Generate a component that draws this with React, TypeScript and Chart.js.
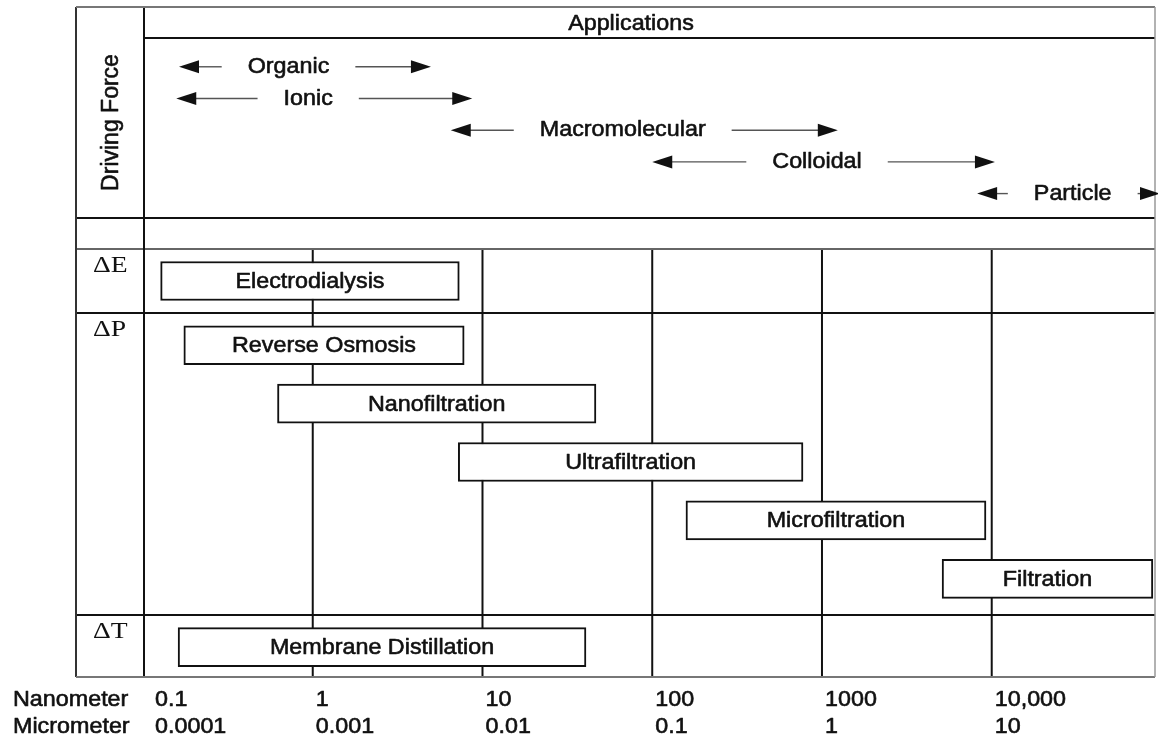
import React, { useEffect, useRef } from 'react';
import { Chart, registerables } from 'chart.js';

Chart.register(...registerables);

// ---- Data (sizes in nanometres) ----
const processNames = ['Electrodialysis', 'Reverse Osmosis', 'Nanofiltration', 'Ultrafiltration', 'Microfiltration', 'Filtration', 'Membrane Distillation'];
const processFrom = [0.127, 0.174, 0.62, 7.2, 158, 5100, 0.161];
const processTo = [7.3, 7.8, 46.6, 773, 9250, 89000, 40.7];
const processLane = [0, 1.1, 2.1, 3.1, 4.1, 5.1, 6.27];
const drivingForce = ['ΔE', 'ΔP', 'ΔP', 'ΔP', 'ΔP', 'ΔP', 'ΔT'];

const applicationNames = ['Organic', 'Ionic', 'Macromolecular', 'Colloidal', 'Particle'];
const applicationFrom = [0.163, 0.157, 6.5, 100, 8200];
const applicationTo = [4.97, 8.7, 1240, 10450, 98000];
const applicationLabelAt = [0.72, 0.94, 67, 935, 30000];
const applicationLane = [0, 1, 2, 3, 4];

const tickValues = [0.1, 1, 10, 100, 1000, 10000];
const nanometerLabels = ['0.1', '1', '10', '100', '1000', '10,000'];
const micrometerLabels = ['0.0001', '0.001', '0.01', '0.1', '1', '10'];
const unitRowTitles = ['Nanometer', 'Micrometer'];

// ---- Layout / style ----
const W = 1158;
const H = 740;
const FRAME_LEFT = 76;
const HEADER_LINE = 38;
const DRIVE_BOTTOM = 218;
const LANE_PAD = 0.55;
const SANS = '"Liberation Sans", Arial, sans-serif';
const SERIF = '"Liberation Serif", "Times New Roman", serif';
const INK = '#111';
const SX = 1.06;

function drawText(ctx: CanvasRenderingContext2D, s: string, x: number, y: number, font: string, align: CanvasTextAlign, sx = SX, heavy = true) {
  ctx.save();
  ctx.font = font;
  ctx.fillStyle = INK;
  ctx.strokeStyle = INK;
  ctx.lineWidth = 0.6;
  ctx.lineJoin = 'round';
  ctx.textBaseline = 'middle';
  ctx.textAlign = align;
  ctx.translate(x, y);
  ctx.scale(sx, 1);
  ctx.fillText(s, 0, 0);
  if (heavy) ctx.strokeText(s, 0, 0);
  ctx.restore();
}

function textWidth(ctx: CanvasRenderingContext2D, s: string, font: string, sx = SX) {
  ctx.save();
  ctx.font = font;
  const w = ctx.measureText(s).width * sx;
  ctx.restore();
  return w;
}

function line(ctx: CanvasRenderingContext2D, x1: number, y1: number, x2: number, y2: number, color: string, width: number) {
  ctx.save();
  ctx.strokeStyle = color;
  ctx.lineWidth = width;
  ctx.beginPath();
  ctx.moveTo(x1, y1);
  ctx.lineTo(x2, y2);
  ctx.stroke();
  ctx.restore();
}

function arrowHead(ctx: CanvasRenderingContext2D, tipX: number, y: number, dir: number) {
  const len = 20;
  const half = 6.5;
  ctx.save();
  ctx.fillStyle = INK;
  ctx.beginPath();
  ctx.moveTo(tipX, y);
  ctx.lineTo(tipX - dir * len, y - half);
  ctx.lineTo(tipX - dir * len, y + half);
  ctx.closePath();
  ctx.fill();
  ctx.restore();
}

function groupBounds() {
  // rows of driving forces derived from the process lanes
  const groups: { label: string; first: number; last: number }[] = [];
  drivingForce.forEach((g, i) => {
    const cur = groups[groups.length - 1];
    if (cur && cur.label === g) cur.last = processLane[i];
    else groups.push({ label: g, first: processLane[i], last: processLane[i] });
  });
  return groups;
}

const diagramPlugin = {
  id: 'membraneDiagram',
  beforeDatasetsDraw(chart: any) {
    const ctx: CanvasRenderingContext2D = chart.ctx;
    const { left, right, top, bottom } = chart.chartArea;
    const x = chart.scales.x;
    const y = chart.scales.y;
    const groups = groupBounds();
    const gridTop = y.getPixelForValue(groups[0].first - LANE_PAD);

    ctx.save();
    ctx.fillStyle = '#fff';
    ctx.fillRect(0, 0, W, H);
    ctx.restore();

    // vertical grid lines at decades
    tickValues.forEach((v) => {
      const px = x.getPixelForValue(v);
      if (px > left + 2 && px < right - 2) line(ctx, px, gridTop, px, bottom, INK, 2);
    });

    // horizontal structure
    line(ctx, left, HEADER_LINE, right, HEADER_LINE, INK, 2);
    line(ctx, FRAME_LEFT, DRIVE_BOTTOM, right, DRIVE_BOTTOM, INK, 2);
    line(ctx, FRAME_LEFT, gridTop, right, gridTop, '#666', 2);
    groups.slice(1).forEach((g) => {
      const py = y.getPixelForValue(g.first - LANE_PAD);
      line(ctx, FRAME_LEFT, py, right, py, INK, 2);
    });

    // frame
    line(ctx, left + 1, top, left + 1, bottom, INK, 2);
    line(ctx, FRAME_LEFT, top, FRAME_LEFT, bottom, '#333', 2);
    line(ctx, FRAME_LEFT, top, right, top, '#777', 2);
    line(ctx, FRAME_LEFT, bottom, right, bottom, '#777', 2);
    line(ctx, right, top, right, bottom, '#999', 1.5);
  },
  afterDatasetsDraw(chart: any) {
    const ctx: CanvasRenderingContext2D = chart.ctx;
    const { left, right, top, bottom } = chart.chartArea;
    const x = chart.scales.x;
    const y = chart.scales.y;
    const yApp = chart.scales.yApp;
    const fontMain = `22px ${SANS}`;

    // process labels inside boxes
    const meta = chart.getDatasetMeta(0);
    meta.data.forEach((el: any, i: number) => {
      const cx = (el.x + el.base) / 2;
      drawText(ctx, processNames[i], cx, el.y + 1, fontMain, 'center');
    });

    // driving-force row labels
    groupBounds().forEach((g) => {
      const py = y.getPixelForValue(g.first - LANE_PAD);
      drawText(ctx, g.label, FRAME_LEFT + 17, py + 17, `23px ${SERIF}`, 'left', 1.2, false);
    });

    // header
    drawText(ctx, 'Applications', (left + right) / 2 - 18, (top + HEADER_LINE) / 2 + 1, fontMain, 'center');
    ctx.save();
    ctx.translate((FRAME_LEFT + left) / 2 + 2, (top + DRIVE_BOTTOM) / 2 + 10);
    ctx.rotate(-Math.PI / 2);
    drawText(ctx, 'Driving Force', 0, 0, `23px ${SANS}`, 'center', 1);
    ctx.restore();

    // application ranges
    applicationNames.forEach((name, i) => {
      const py = yApp.getPixelForValue(applicationLane[i]);
      const x0 = x.getPixelForValue(applicationFrom[i]);
      const x1 = x.getPixelForValue(applicationTo[i]);
      const xc = x.getPixelForValue(applicationLabelAt[i]);
      const tw = textWidth(ctx, name, fontMain);
      const gap = 26;
      drawText(ctx, name, xc, py, fontMain, 'center');
      line(ctx, x0 + 16, py, xc - tw / 2 - gap, py, '#555', 1.4);
      line(ctx, xc + tw / 2 + gap, py, x1 - 16, py, '#555', 1.4);
      arrowHead(ctx, x0, py, -1);
      arrowHead(ctx, x1, py, 1);
    });

    // size scale rows
    const rows = [nanometerLabels, micrometerLabels];
    rows.forEach((labels, r) => {
      const py = bottom + 23 + r * 27;
      drawText(ctx, unitRowTitles[r], 13, py, fontMain, 'left');
      tickValues.forEach((v, i) => {
        const px = Math.max(x.getPixelForValue(v) + 3, left + 12);
        drawText(ctx, labels[i], px, py, fontMain, 'left');
      });
    });
  },
};

export default function App() {
  const ref = useRef<HTMLCanvasElement | null>(null);

  useEffect(() => {
    if (!ref.current) return;
    const chart = new Chart(ref.current, {
      type: 'bar',
      data: {
        datasets: [
          {
            data: processNames.map((_, i) => ({ x: [processFrom[i], processTo[i]], y: processLane[i] })) as any,
            backgroundColor: '#fff',
            borderColor: INK,
            borderWidth: 2,
            borderSkipped: false,
            barThickness: 39,
          },
        ],
      },
      options: {
        indexAxis: 'y',
        animation: false,
        responsive: false,
        events: [],
        layout: { padding: { left: 143, right: 3, top: 7, bottom: 63 } },
        plugins: { legend: { display: false }, tooltip: { enabled: false } },
        scales: {
          x: { type: 'logarithmic', min: 0.1, max: 91600, display: false, offset: false },
          y: { type: 'linear', reverse: true, min: -4.692, max: 6.781, display: false, offset: false },
          yApp: { type: 'linear', axis: 'y', reverse: true, min: -1.886, max: 19.25, display: false, offset: false },
        },
      },
      plugins: [diagramPlugin],
    });
    return () => chart.destroy();
  }, []);

  return (
    <div style={{ position: 'fixed', left: 0, top: 0, width: W, height: H, background: '#fff' }}>
      <canvas ref={ref} width={W} height={H} style={{ display: 'block', width: W, height: H }} />
    </div>
  );
}
